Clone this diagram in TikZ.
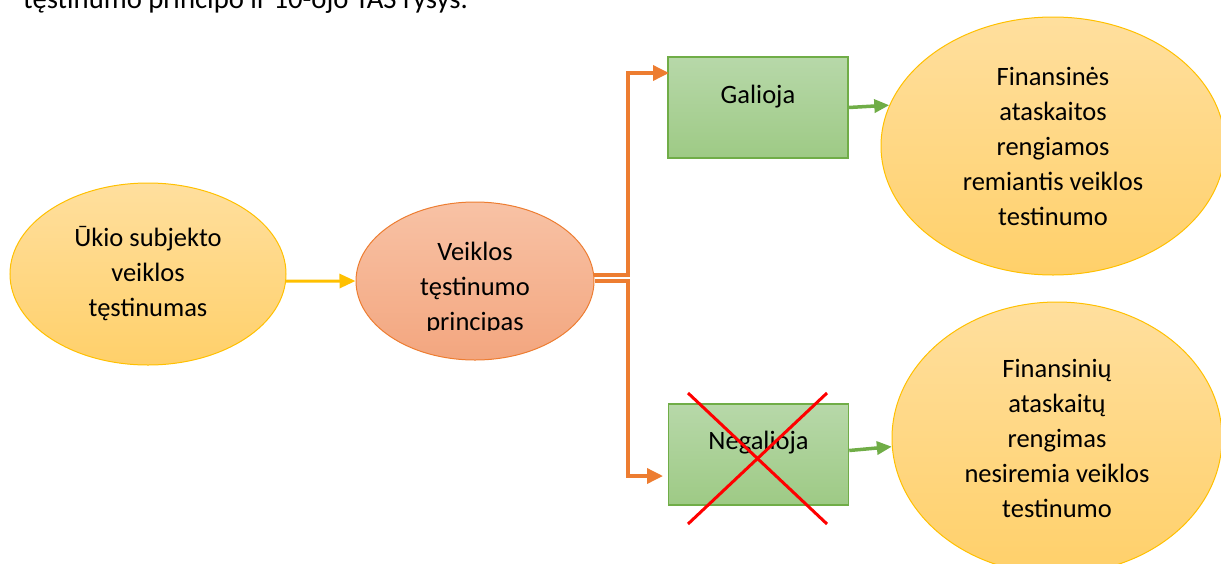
\documentclass[tikz,border=0pt]{standalone}
\usepackage{fontspec}
\setmainfont{Carlito}
\usetikzlibrary{shapes.geometric,arrows.meta}

\definecolor{goldline}{HTML}{FFC000}
\definecolor{goldtop}{HTML}{FFDF9E}
\definecolor{goldbot}{HTML}{FFD06A}
\definecolor{orangeline}{HTML}{ED7D31}
\definecolor{orangetop}{HTML}{F8C2A5}
\definecolor{orangebot}{HTML}{F3A67F}
\definecolor{greenline}{HTML}{70AD47}
\definecolor{greentop}{HTML}{B7D8A9}
\definecolor{greenbot}{HTML}{9ECA85}

\begin{document}
\begin{tikzpicture}[x=1pt,y=-1pt,
  txt/.style={font=\fontsize{26.5}{35}\selectfont, align=center, inner sep=0pt, text=black},
  goldell/.style={ellipse, draw=goldline, line width=1pt, top color=goldtop, bottom color=goldbot, inner sep=0pt, txt},
  orangeell/.style={ellipse, draw=orangeline, line width=1pt, top color=orangetop, bottom color=orangebot, inner sep=0pt},
  greenbox/.style={rectangle, draw=greenline, line width=1.5pt, top color=greentop, bottom color=greenbot, minimum width=180pt, minimum height=101pt, inner sep=0pt},
  yarrow/.style={draw=goldline, line width=3pt, -{Triangle[length=16pt,width=14pt]}},
  oarrow/.style={draw=orangeline, line width=3.5pt, -{Triangle[length=16pt,width=15pt]}},
  garrow/.style={draw=greenline, line width=3.5pt, -{Triangle[length=15pt,width=13pt]}},
  cross/.style={draw=red, line width=3pt}
]
\useasboundingbox (0,0) rectangle (1221,563);
\clip (0,0) rectangle (1221,563);

% caption line above the figure
\node[anchor=base west, inner sep=0pt, font=\fontsize{28.7}{34}\selectfont] (cap) at (23,8) {tęstinumo principo ir 10-ojo TAS ryšys.};

% shapes
\node[goldell, minimum width=276pt, minimum height=182pt] (ukio) at (148,274) {Ūkio subjekto\\veiklos\\tęstinumas};
\node[orangeell, minimum width=238pt, minimum height=158pt] (veik) at (475,281) {};
\begin{scope}
  \clip (356,200) rectangle (594,330);
  \node[txt] (veiktxt) at (475,288) {Veiklos\\tęstinumo\\principas};
\end{scope}

\node[greenbox] (gal) at (758,107.5) {};
\node[txt] (galtxt) at (758,97) {Galioja};
\node[greenbox] (neg) at (758.5,454.5) {};
\node[txt] (negtxt) at (758.5,443) {Negalioja};

\node[goldell, minimum width=344pt, minimum height=258pt] (fin1) at (1053,146) {Finansinės\\ataskaitos\\rengiamos\\remiantis veiklos\\testinumo};
\node[goldell, minimum width=330pt, minimum height=272pt] (fin2) at (1057,438) {Finansinių\\ataskaitų\\rengimas\\nesiremia veiklos\\testinumo};

% connectors
\coordinate (bus) at (628,0);
\coordinate (galin) at (669,73);
\coordinate (negin) at (663,476);

\draw[yarrow] (ukio.-3) -- (veik.west);
\draw[oarrow] (veik.3) -- (bus |- veik.3) -- (bus |- galin) -- (galin);
\draw[oarrow] (veik.east) -- (bus |- veik.east) -- (bus |- negin) -- (negin);
\draw[garrow] (gal.east) -- (fin1.166);
\draw[garrow] ([yshift=4pt]neg.east) -- (fin2.183);

% crossing-out mark
\coordinate (xa) at (688,393);
\coordinate (xb) at (827,524);
\coordinate (xc) at (827,393);
\coordinate (xd) at (688,524);
\draw[cross] (xa) -- (xb);
\draw[cross] (xc) -- (xd);
\end{tikzpicture}
\end{document}
